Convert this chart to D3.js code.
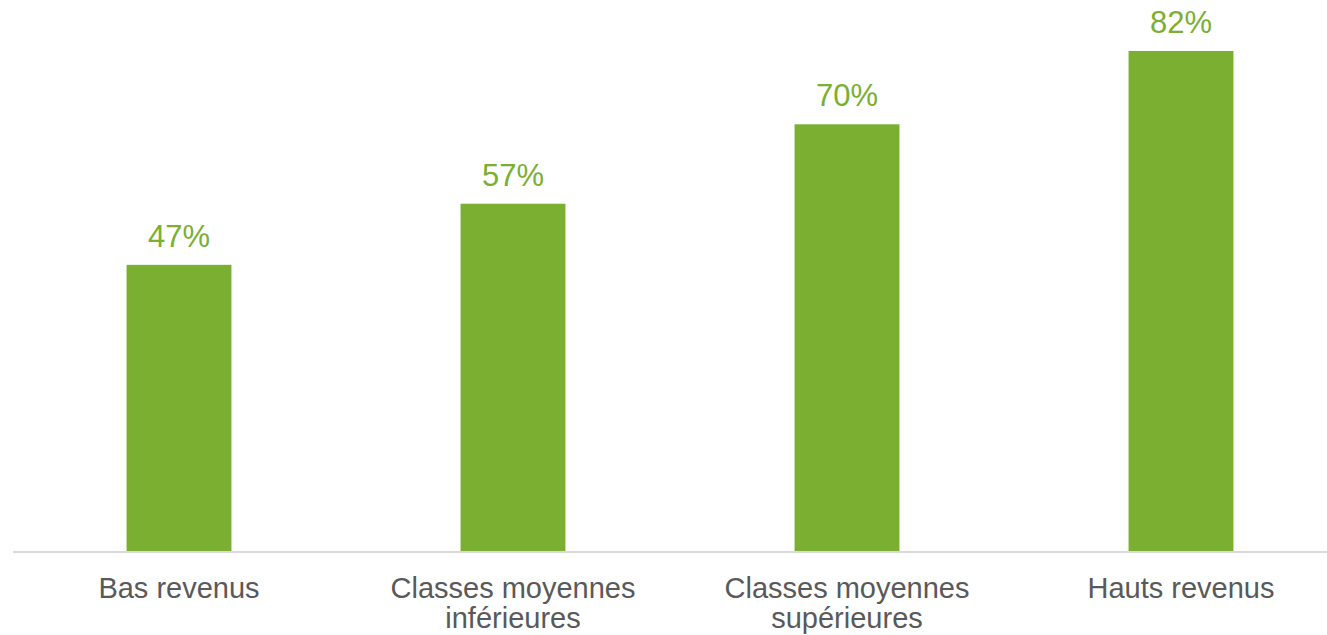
<!DOCTYPE html>
<html>
<head>
<meta charset="utf-8">
<script src="https://cdn.jsdelivr.net/npm/d3@7"></script>
<style>
  body { margin: 0; background: #fff; }
  svg { display: block; }
  text { font-family: Arial, "Liberation Sans", sans-serif; }
</style>
</head>
<body>
<div id="chart"></div>
<script>
// chart data
const categories = [
    ["Bas revenus"],
    ["Classes moyennes", "inférieures"],
    ["Classes moyennes", "supérieures"],
    ["Hauts revenus"]
];
const values = [47, 57, 70, 82];

const width = 1327;
const height = 635;
const green = "#7aaf31";

const svg = d3.select("#chart")
    .append("svg")
    .attr("width", width)
    .attr("height", height);

// scales
const x = d3.scaleBand()
    .domain(d3.range(categories.length))
    .range([12, 1348])
    .paddingInner(0.686)
    .paddingOuter(0.343);

const y = d3.scaleLinear()
    .domain([0, 100])
    .range([552, -59]);

// bars
svg.selectAll(".bar")
    .data(values)
    .enter().append("rect")
    .attr("class", "bar")
    .attr("x", (d, i) => x(i))
    .attr("y", d => y(d))
    .attr("width", x.bandwidth())
    .attr("height", d => y(0) - y(d))
    .attr("fill", green);

// baseline
svg.append("line")
    .attr("x1", x.range()[0] + 1)
    .attr("x2", x.range()[1])
    .attr("y1", y(0))
    .attr("y2", y(0))
    .attr("stroke", "#d9d9d9")
    .attr("stroke-width", 2);

// value labels
svg.selectAll(".value")
    .data(values)
    .enter().append("text")
    .attr("class", "value")
    .attr("x", (d, i) => x(i) + x.bandwidth() / 2)
    .attr("y", d => y(d) - 18)
    .attr("text-anchor", "middle")
    .attr("fill", green)
    .style("font-size", "31px")
    .text(d => d + "%");

// category labels
const labels = svg.selectAll(".cat")
    .data(categories)
    .enter().append("text")
    .attr("class", "cat")
    .attr("x", (d, i) => x(i) + x.bandwidth() / 2)
    .attr("y", 598)
    .attr("text-anchor", "middle")
    .attr("fill", "#595959")
    .style("font-size", "29px");

labels.each(function(lines, i) {
    d3.select(this).selectAll("tspan")
        .data(lines)
        .enter().append("tspan")
        .attr("x", x(i) + x.bandwidth() / 2)
        .attr("dy", (l, j) => j === 0 ? 0 : 30)
        .text(l => l);
});
</script>
</body>
</html>
